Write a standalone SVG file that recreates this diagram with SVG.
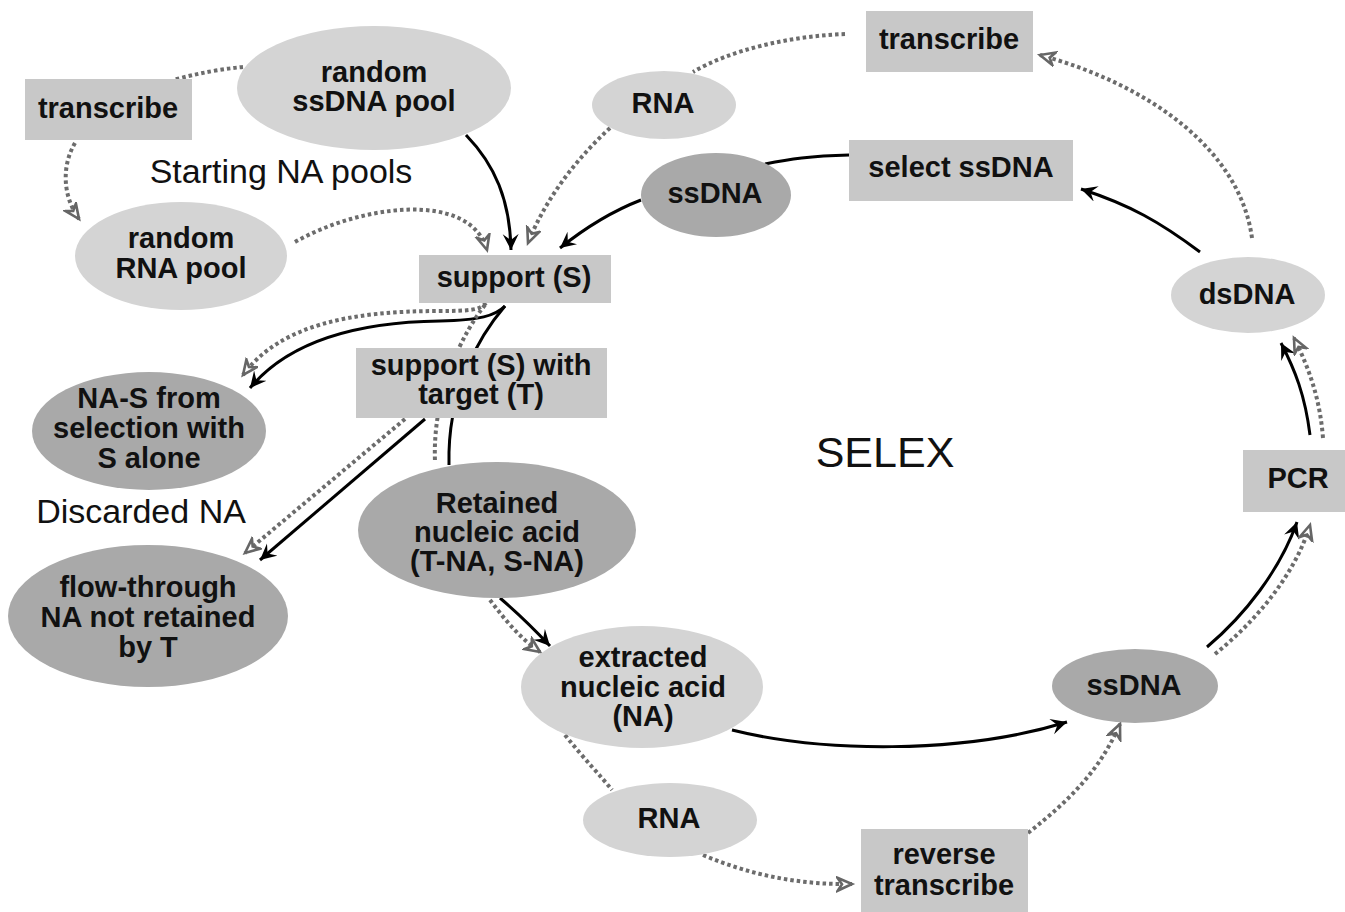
<svg xmlns="http://www.w3.org/2000/svg" width="1345" height="912" viewBox="0 0 1345 912">
<defs>
<marker id="ab" markerUnits="userSpaceOnUse" markerWidth="20" markerHeight="20" refX="16" refY="8" orient="auto">
<path d="M0,0 L16,8 L0,16 L6,8 Z" fill="#000"/>
</marker>
<marker id="ag" markerUnits="userSpaceOnUse" markerWidth="22" markerHeight="22" refX="16" refY="8" orient="auto">
<path d="M1.5,1.5 L16,8 L1.5,14.5 L6,8 Z" fill="#fff" stroke="#666" stroke-width="2.6" stroke-linejoin="miter"/>
</marker>
<style>
.bk{fill:none;stroke:#000;stroke-width:3}
.dt{fill:none;stroke:#6c6c6c;stroke-width:4;stroke-dasharray:3.5 3}
.ba{marker-end:url(#ab)}
.ga{marker-end:url(#ag)}
.rc{fill:#c8c8c8}
.lt{fill:#d4d4d4}
.dk{fill:#a9a9a9}
.t{font-family:"Liberation Sans",Arial,sans-serif;font-weight:bold;font-size:29px;fill:#111;text-anchor:middle}
.p{font-family:"Liberation Sans",Arial,sans-serif;font-size:34px;fill:#111;text-anchor:middle}
</style>
</defs>
<rect width="1345" height="912" fill="#fff"/>
<g id="connectors">
<path class="dt" d="M243,67 Q210,70 173,80"/>
<path class="dt ga" d="M75,143 C62,165 62,195 79,219"/>
<path class="bk ba" d="M466,135 C495,165 510,200 511,250"/>
<path class="dt ga" d="M295,242 C360,205 470,190 487,250"/>
<path class="dt ga" d="M610,128 C575,160 545,200 528,243"/>
<path class="dt" d="M845,34 C790,36 730,50 693,72"/>
<path class="bk ba" d="M641,200 C610,212 585,228 560,248"/>
<path class="bk" d="M849,155 C810,156 790,159 765,164"/>
<path class="bk ba" d="M1200,252 C1160,222 1130,205 1081,189"/>
<path class="dt ga" d="M1252,238 C1240,150 1150,85 1040,55"/>
<path class="bk ba" d="M1310,435 C1305,395 1295,370 1281,343"/>
<path class="dt ga" d="M1323,438 C1320,400 1310,370 1294,338"/>
<path class="bk ba" d="M1207,647 C1245,615 1280,570 1297,522"/>
<path class="dt ga" d="M1215,654 C1255,622 1295,575 1310,525"/>
<path class="bk ba" d="M732,730 C820,752 960,755 1067,722"/>
<path class="dt" d="M565,735 C585,760 600,775 612,790"/>
<path class="dt ga" d="M703,855 C750,875 800,885 852,884"/>
<path class="dt ga" d="M1028,833 C1070,800 1100,770 1120,724"/>
<path class="bk ba" d="M500,598 C520,615 535,630 550,646"/>
<path class="dt ga" d="M490,600 C505,620 520,638 540,652"/>
<path class="bk ba" d="M505,306 C495,316 480,320 440,321 C360,322 290,340 250,388"/>
<path class="dt ga" d="M486,303 C480,310 470,311 440,311 C350,311 280,325 243,375"/>
<path class="bk" d="M505,306 C480,335 447,390 449,465"/>
<path class="dt" d="M485,305 C465,330 432,390 435,462"/>
<path class="bk ba" d="M425,419 L260,560"/>
<path class="dt ga" d="M405,419 L245,553"/>
</g>
<g id="transcribe-left"><rect class="rc" x="25" y="79" width="167" height="61"/><text class="t" x="108" y="118">transcribe</text></g>
<g id="random-ssdna-pool"><ellipse class="lt" cx="374" cy="88" rx="137" ry="62"/><text class="t" x="374" y="82">random</text><text class="t" x="374" y="111">ssDNA pool</text></g>
<g id="label-starting"><text class="p" x="281" y="183">Starting NA pools</text></g>
<g id="random-rna-pool"><ellipse class="lt" cx="181" cy="256" rx="106" ry="54"/><text class="t" x="181" y="248">random</text><text class="t" x="181" y="278">RNA pool</text></g>
<g id="support"><rect class="rc" x="419" y="255" width="192" height="48"/><text class="t" x="514" y="287">support (S)</text></g>
<g id="support-target"><rect class="rc" x="356" y="348" width="251" height="70"/><text class="t" x="481" y="375">support (S) with</text><text class="t" x="481" y="404">target (T)</text></g>
<g id="transcribe-right"><rect class="rc" x="866" y="11" width="167" height="61"/><text class="t" x="949" y="49">transcribe</text></g>
<g id="rna-top"><ellipse class="lt" cx="664" cy="105" rx="72" ry="34"/><text class="t" x="663" y="113">RNA</text></g>
<g id="ssdna-top"><ellipse class="dk" cx="716" cy="195" rx="75" ry="42"/><text class="t" x="715" y="203">ssDNA</text></g>
<g id="select-ssdna"><rect class="rc" x="849" y="140" width="224" height="61"/><text class="t" x="961" y="177">select ssDNA</text></g>
<g id="dsdna"><ellipse class="lt" cx="1248" cy="295" rx="77" ry="38"/><text class="t" x="1247" y="304">dsDNA</text></g>
<g id="pcr"><rect class="rc" x="1243" y="450" width="102" height="62"/><text class="t" x="1298" y="488">PCR</text></g>
<g id="selex"><text class="p" x="885" y="467" style="font-size:43px">SELEX</text></g>
<g id="na-s"><ellipse class="dk" cx="149" cy="431" rx="117" ry="59"/><text class="t" x="149" y="408">NA-S from</text><text class="t" x="149" y="438">selection with</text><text class="t" x="149" y="468">S alone</text></g>
<g id="label-discarded"><text class="p" x="141" y="523">Discarded NA</text></g>
<g id="flow-through"><ellipse class="dk" cx="148" cy="616" rx="140" ry="71"/><text class="t" x="148" y="597">flow-through</text><text class="t" x="148" y="627">NA not retained</text><text class="t" x="148" y="657">by T</text></g>
<g id="retained"><ellipse class="dk" cx="497" cy="530" rx="139" ry="68"/><text class="t" x="497" y="513">Retained</text><text class="t" x="497" y="542">nucleic acid</text><text class="t" x="497" y="571">(T-NA, S-NA)</text></g>
<g id="extracted"><ellipse class="lt" cx="642" cy="687" rx="121" ry="61"/><text class="t" x="643" y="667">extracted</text><text class="t" x="643" y="697">nucleic acid</text><text class="t" x="643" y="726">(NA)</text></g>
<g id="rna-bottom"><ellipse class="lt" cx="670" cy="820" rx="87" ry="37"/><text class="t" x="669" y="828">RNA</text></g>
<g id="reverse-transcribe"><rect class="rc" x="861" y="829" width="167" height="83"/><text class="t" x="944" y="864">reverse</text><text class="t" x="944" y="895">transcribe</text></g>
<g id="ssdna-bottom"><ellipse class="dk" cx="1135" cy="686" rx="83" ry="37"/><text class="t" x="1134" y="695">ssDNA</text></g>
</svg>
